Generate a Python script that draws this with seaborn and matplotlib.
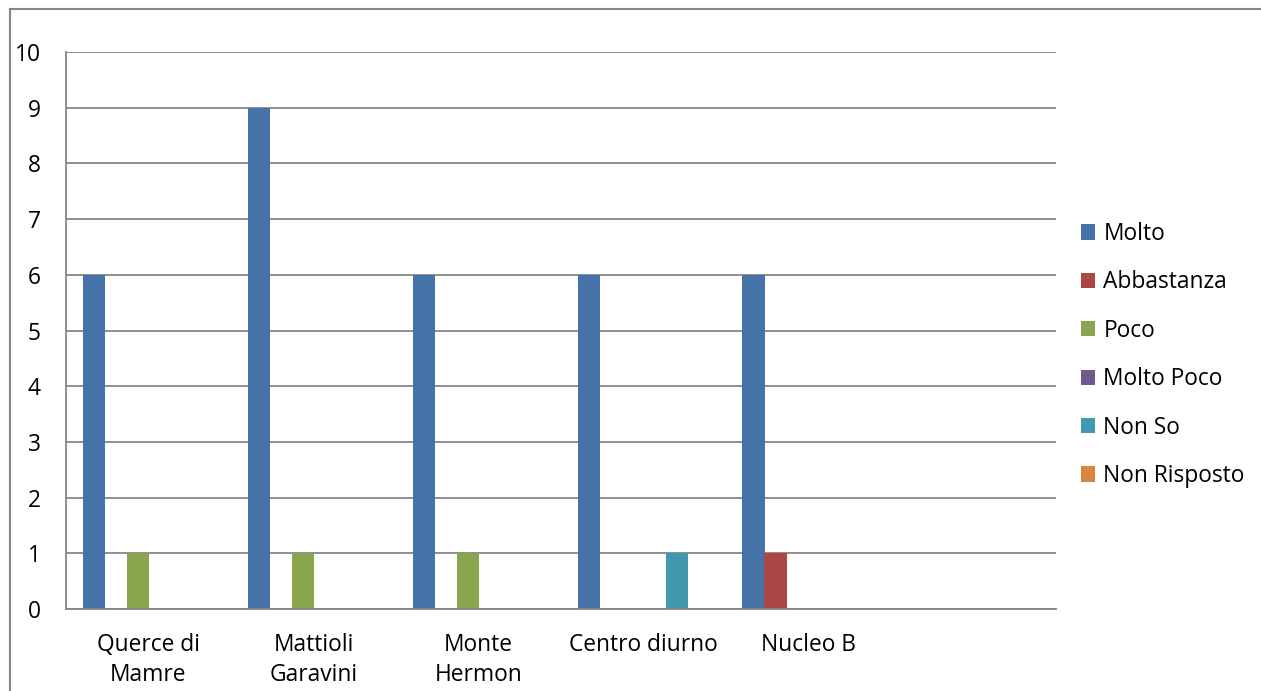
import matplotlib
matplotlib.use("Agg")
import matplotlib.pyplot as plt
import matplotlib.patches as mpatches
import seaborn as sns
import pandas as pd
from matplotlib.ticker import FixedLocator, NullFormatter, FixedFormatter

categories = ["Querce di\nMamre", "Mattioli\nGaravini", "Monte\nHermon", "Centro diurno", "Nucleo B", ""]
series = ["Molto", "Abbastanza", "Poco", "Molto Poco", "Non So", "Non Risposto"]
molto = [6, 9, 6, 6, 6, 0]
abbastanza = [0, 0, 0, 0, 1, 0]
poco = [1, 1, 1, 0, 0, 0]
molto_poco = [0, 0, 0, 0, 0, 0]
non_so = [0, 0, 0, 1, 0, 0]
non_risposto = [0, 0, 0, 0, 0, 0]
y_ticks = [0, 1, 2, 3, 4, 5, 6, 7, 8, 9, 10]

colors = ["#4572A7", "#AA4643", "#89A54E", "#71588F", "#4198AF", "#DB843D"]

values = [molto, abbastanza, poco, molto_poco, non_so, non_risposto]
rows = []
for s, vals in zip(series, values):
    for c, v in zip(categories, vals):
        rows.append({"cat": c, "serie": s, "val": v})
df = pd.DataFrame(rows)

sns.set_style("white")
plt.rcParams["font.family"] = ["Open Sans", "DejaVu Sans"]
plt.rcParams["text.color"] = "black"
plt.rcParams["xtick.labelcolor"] = "black"
plt.rcParams["ytick.labelcolor"] = "black"
FS = 16.4

W, H = 1261, 691
fig = plt.figure(figsize=(W / 100, H / 100), dpi=100)
ax = fig.add_axes([66 / W, 1 - 609 / H, (1056 - 66) / W, (609 - 52) / H])

sns.barplot(data=df, x="cat", y="val", hue="serie", order=categories,
            hue_order=series, palette=colors, width=0.8, saturation=1,
            linewidth=0, ax=ax, legend=False)

grid_c = "#868686"
ax.set_xlim(-0.5, len(categories) - 0.5)
ax.set_ylim(0, 10)
ax.set_yticks(y_ticks)
ax.set_yticklabels([str(t) for t in y_ticks], fontsize=FS)
ax.yaxis.grid(True, color=grid_c, linewidth=1.3)
ax.set_axisbelow(True)

# category boundaries as major ticks, labels at centers as minor ticks
bounds = [i - 0.5 for i in range(len(categories) + 1)]
ax.xaxis.set_major_locator(FixedLocator(bounds))
ax.xaxis.set_major_formatter(NullFormatter())
ax.xaxis.set_minor_locator(FixedLocator(list(range(len(categories)))))
ax.xaxis.set_minor_formatter(FixedFormatter(categories))
ax.tick_params(axis="x", which="major", length=6, width=1.3, color=grid_c, direction="out")
ax.tick_params(axis="x", which="minor", length=0, pad=17, labelsize=FS, labelcolor="black")
ax.tick_params(axis="y", length=6, width=1.3, color=grid_c, direction="out", pad=12, labelcolor="black")
for lbl in ax.xaxis.get_minorticklabels():
    lbl.set_linespacing(1.33)
    lbl.set_verticalalignment("top")

for side in ["top", "right"]:
    ax.spines[side].set_visible(False)
for side in ["left", "bottom"]:
    ax.spines[side].set_color(grid_c)
    ax.spines[side].set_linewidth(1.3)
ax.set_xlabel("")
ax.set_ylabel("")

handles = [mpatches.Patch(facecolor=c, edgecolor="none", label=s) for c, s in zip(colors, series)]
fig.legend(handles=handles, loc="center left", bbox_to_anchor=(1060 / W, 1 - 355 / H),
           frameon=False, fontsize=FS, handlelength=0.65, handleheight=0.65,
           handletextpad=0.35, labelspacing=1.07, labelcolor="black")

border = mpatches.Rectangle((10 / W, -0.1), 1.2, 1 - 9 / H + 0.1, transform=fig.transFigure,
                            fill=False, edgecolor="#868686", linewidth=1.5)
fig.patches.append(border)

fig.savefig("out.png", dpi=100)
